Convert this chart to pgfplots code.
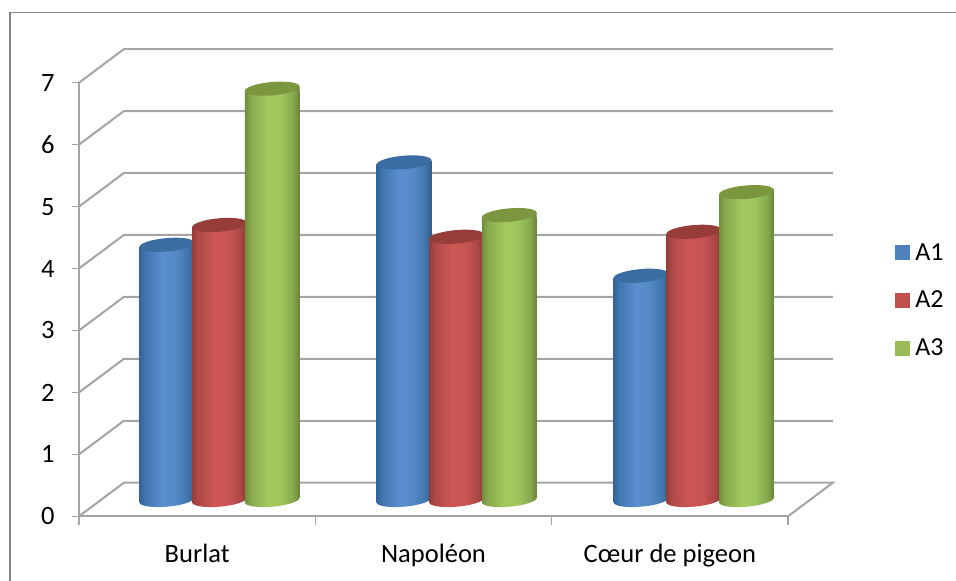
\documentclass[border=0pt]{standalone}
\usepackage{pgfplots}
\usepackage{pgfplotstable}
\usepackage{fontspec}
\setmainfont{Carlito}
\pgfplotsset{compat=1.18}

\definecolor{gridgray}{HTML}{A4A4A4}
\definecolor{framegray}{HTML}{868686}
\definecolor{swatchA}{HTML}{4F81BD}
\definecolor{swatchB}{HTML}{C0504D}
\definecolor{swatchC}{HTML}{9BBB59}

% Cylinder walls: dark rims with a highlight left of the middle
\pgfdeclarehorizontalshading{sideA}{100bp}{rgb(0bp)=(.20,.39,.60); rgb(25bp)=(.20,.39,.60); rgb(30bp)=(.25,.46,.69); rgb(46bp)=(.35,.56,.81); rgb(58bp)=(.33,.54,.78); rgb(69bp)=(.26,.46,.68); rgb(75bp)=(.20,.37,.56); rgb(100bp)=(.20,.37,.56)}
\pgfdeclarehorizontalshading{sideB}{100bp}{rgb(0bp)=(.58,.24,.23); rgb(25bp)=(.58,.24,.23); rgb(30bp)=(.68,.29,.28); rgb(46bp)=(.81,.34,.33); rgb(58bp)=(.78,.33,.32); rgb(69bp)=(.67,.28,.27); rgb(75bp)=(.53,.22,.21); rgb(100bp)=(.53,.22,.21)}
\pgfdeclarehorizontalshading{sideC}{100bp}{rgb(0bp)=(.44,.55,.24); rgb(25bp)=(.44,.55,.24); rgb(30bp)=(.53,.66,.30); rgb(46bp)=(.64,.79,.37); rgb(58bp)=(.62,.77,.36); rgb(69bp)=(.52,.66,.30); rgb(75bp)=(.41,.52,.22); rgb(100bp)=(.41,.52,.22)}

% Tilted cylinder ends. The plotted point lies level with the lower tip of the ellipse.
\newcommand\tiltedellipse{\pgfpathellipse{\pgfpoint{0pt}{2.4pt}}{\pgfpoint{27.4pt}{2.4pt}}{\pgfpoint{-0.58pt}{6.67pt}}}
\newcommand\declarecylinder[2]{%
  \pgfdeclareplotmark{top#1}{%
    \pgfpathmoveto{\pgfpoint{-27.4pt}{0pt}}%
    \pgfpathlineto{\pgfpoint{27.4pt}{4.8pt}}%
    \pgfpathlineto{\pgfpoint{27.4pt}{-1pt}}%
    \pgfpathlineto{\pgfpoint{-27.4pt}{-1pt}}%
    \pgfpathclose
    \pgfshadepath{side#1}{0}\pgfusepath{discard}%
    \tiltedellipse
    \pgfsetfillcolor{#2}\pgfusepath{fill}%
  }%
  \pgfdeclareplotmark{bottom#1}{%
    \tiltedellipse
    \pgfshadepath{side#1}{0}\pgfusepath{discard}%
    \pgfpathmoveto{\pgfpoint{-27.4pt}{0pt}}%
    \pgfpathlineto{\pgfpoint{27.4pt}{4.8pt}}%
    \pgfpathlineto{\pgfpoint{27.4pt}{6pt}}%
    \pgfpathlineto{\pgfpoint{-27.4pt}{6pt}}%
    \pgfpathclose
    \pgfshadepath{side#1}{0}\pgfusepath{discard}%
  }%
}
\definecolor{capA}{HTML}{3B6CA3}
\definecolor{capB}{HTML}{963C39}
\definecolor{capC}{HTML}{7B963F}
\declarecylinder{A}{capA}
\declarecylinder{B}{capB}
\declarecylinder{C}{capC}

\pgfplotstableread{
cat base A1   A2   A3
0   0    4.12 4.44 6.64
1   0    5.45 4.25 4.60
2   0    3.62 4.33 4.97
}\cherries

\pgfplotsset{
  row one/.style={skip coords between index={1}{3}},
  row two/.style={skip coords between index={0}{1},skip coords between index={2}{3}},
  row three/.style={skip coords between index={0}{2}},
  wall/.style={ybar,bar shift=0pt,bar width=54.8pt,draw=none,shading=#1},
}
% One series: each wall is its own plot so that it takes the whole shading, then the caps.
% #1 letter, #2 column, #3 offset within the group
\newcommand\cylinderseries[3]{%
  \addplot[wall=side#1,row one,
    legend image code/.code={%
      \pgfsetfillcolor{swatch#1}%
      \pgfpathrectangle{\pgfpoint{0pt}{-7.5pt}}{\pgfpoint{15pt}{15pt}}%
      \pgfusepath{fill}}]
    table[x expr=\thisrow{cat}+#3,y=#2] {\cherries};
  \addlegendentry{#2}
  \addplot[wall=side#1,row two,forget plot] table[x expr=\thisrow{cat}+#3,y=#2] {\cherries};
  \addplot[wall=side#1,row three,forget plot] table[x expr=\thisrow{cat}+#3,y=#2] {\cherries};
  \addplot[only marks,mark=top#1,forget plot] table[x expr=\thisrow{cat}+#3,y=#2] {\cherries};
}

\begin{document}
\begin{tikzpicture}[x=1pt,y=1pt]
\path[use as bounding box] (-79pt,-64.7pt) rectangle (877pt,516.3pt);
\draw[framegray,line width=1.3pt] (-69pt,-64.7pt) -- (-69pt,503.6pt) -- (877pt,503.6pt);

% Walls, floor and the front axes
\begin{axis}[
  at={(0pt,0pt)},anchor=south west,
  scale only axis,width=709pt,height=433.6pt,
  xmin=-0.5,xmax=2.5,ymin=0,ymax=7,
  clip=false,
  axis lines=left,
  axis line style={-,gridgray,line width=2pt},
  xtick={0,1,2},
  xticklabels={Burlat,Napoléon,Cœur de pigeon},
  minor xtick={-0.5,0.5,1.5,2.5},
  ytick={0,...,7},
  tick align=outside,
  major tick length=7pt,
  minor tick length=9pt,
  xtick style={draw=none},
  minor x tick style={draw=gridgray,line width=1.4pt},
  ytick style={draw=gridgray,line width=1.4pt},
  /pgf/number format/assume math mode=true,
  tick label style={font=\fontsize{26.5}{29}\selectfont,text=black},
  xticklabel style={yshift=-17pt},
  yticklabel style={xshift=-14pt},
]
\addplot[gridgray,line width=2pt,no marks,empty line=jump,forget plot] table[x=x,y=y] {
x y
-0.5 0
-0.31 0.5425
2.69 0.5425
2.5 0

-0.5 1
-0.31 1.5425
2.69 1.5425

-0.5 2
-0.31 2.5425
2.69 2.5425

-0.5 3
-0.31 3.5425
2.69 3.5425

-0.5 4
-0.31 4.5425
2.69 4.5425

-0.5 5
-0.31 5.5425
2.69 5.5425

-0.5 6
-0.31 6.5425
2.69 6.5425

-0.5 7
-0.31 7.5425
2.69 7.5425
};
\end{axis}

% Rounded feet of the cylinders
\begin{axis}[
  at={(21.95pt,13.9pt)},anchor=south west,
  scale only axis,width=711.3pt,height=433.6pt,
  xmin=-0.5,xmax=2.5,ymin=0,ymax=7,
  hide axis,clip=false,
]
\addplot[only marks,mark=bottomA] table[x expr=\thisrow{cat}-0.2223,y=base] {\cherries};
\addplot[only marks,mark=bottomB] table[x=cat,y=base] {\cherries};
\addplot[only marks,mark=bottomC] table[x expr=\thisrow{cat}+0.2223,y=base] {\cherries};
\end{axis}

% Cylinder walls and caps, set back on the floor; the lower limit trims each wall at its foot
\begin{axis}[
  at={(21.95pt,18.7pt)},anchor=south west,
  scale only axis,width=711.3pt,height=428.8pt,
  xmin=-0.5,xmax=2.5,ymin=0.0775,ymax=7,
  hide axis,
  clip mode=individual,
  legend style={at={(1.1165,0.598)},anchor=north west,draw=none,fill=none,inner sep=0pt,
    font=\fontsize{26}{28}\selectfont,row sep=25.5pt,column sep=3pt},
  legend cell align=left,
]
\cylinderseries{A}{A1}{-0.2223}
\cylinderseries{B}{A2}{0}
\cylinderseries{C}{A3}{0.2223}
\end{axis}
\end{tikzpicture}
\end{document}
